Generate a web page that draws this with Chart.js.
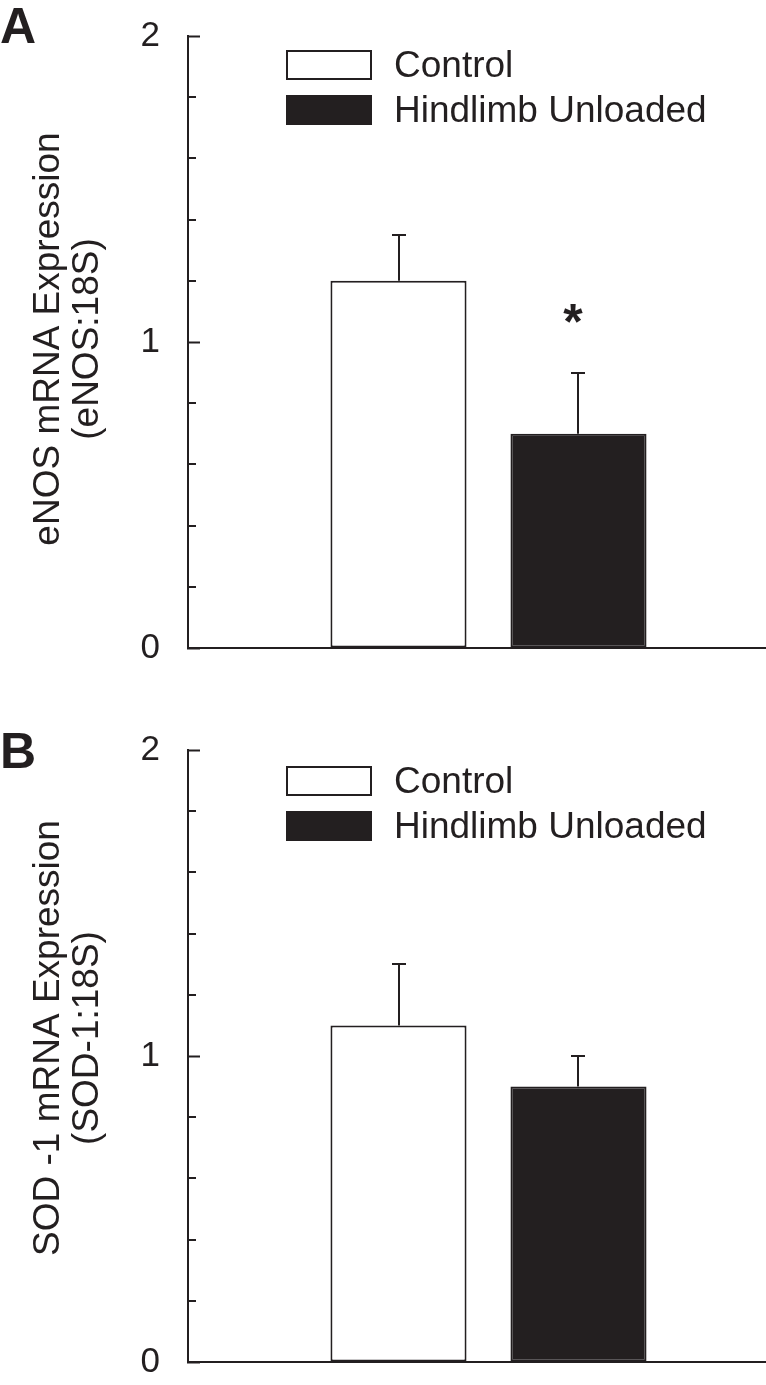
<!DOCTYPE html>
<html><head><meta charset="utf-8">
<script src="https://cdn.jsdelivr.net/npm/chart.js@4"></script>
<style>
html,body{margin:0;padding:0;background:#fff;overflow:hidden;width:766px;height:1385px;}
canvas{position:absolute;left:0;}
#a{top:0}
#b{top:714px}
</style></head><body>
<canvas id="a" width="789" height="714"></canvas>
<canvas id="b" width="789" height="714"></canvas>
<script>
// ---- data ----
const seriesNames = ['Control', 'Hindlimb Unloaded'];
const categories = [''];
const eNOSMeans = [1.2, 0.7];
const eNOSErrors = [0.15, 0.2];
const eNOSSignificant = [false, true];
const sod1Means = [1.1, 0.9];
const sod1Errors = [0.2, 0.1];
const sod1Significant = [false, false];
const yTickLabels = [0, 1, 2];
const yMin = 0, yMax = 2, yStep = 0.2;
const titleA = ['eNOS mRNA Expression', '(eNOS:18S)'];
const titleB = ['SOD -1 mRNA Expression', '(SOD-1:18S)'];

// ---- style ----
const INK = '#231f20';
const FONT = '"Liberation Sans", Arial, Helvetica, sans-serif';
const fills = ['#ffffff', INK];

function isMajor(v) { return yTickLabels.some(t => Math.abs(t - v) < 1e-6); }

const decorPlugin = {
  id: 'decor',
  afterDatasetsDraw(chart, args, opts) {
    const ctx = chart.ctx;
    const ys = chart.scales.y;
    const area = chart.chartArea;
    ctx.save();
    ctx.strokeStyle = INK;
    ctx.fillStyle = INK;
    ctx.lineWidth = 2;
    // minor ticks (inward)
    ys.ticks.forEach(t => {
      if (!isMajor(t.value)) {
        const y = Math.round(ys.getPixelForValue(t.value));
        ctx.beginPath();
        ctx.moveTo(area.left, y);
        ctx.lineTo(area.left + 8, y);
        ctx.stroke();
      }
    });
    // error bars + significance
    chart.data.datasets.forEach((ds, i) => {
      const bar = chart.getDatasetMeta(i).data[0];
      const x = Math.round(bar.x);
      const yTop = Math.round(ys.getPixelForValue(ds.data[0] + ds.errors[0]));
      ctx.beginPath();
      ctx.moveTo(x, bar.y);
      ctx.lineTo(x, yTop);
      ctx.moveTo(x - 7, yTop);
      ctx.lineTo(x + 7, yTop);
      ctx.stroke();
      if (ds.significant[0]) {
        ctx.font = 'bold 50px ' + FONT;
        ctx.textAlign = 'center';
        ctx.textBaseline = 'alphabetic';
        const m = ctx.measureText('*');
        const cy = yTop - 60;
        const base = cy + (m.actualBoundingBoxAscent - m.actualBoundingBoxDescent) / 2;
        ctx.fillText('*', x - 5, base);
      }
    });
    // legend
    ctx.font = '37px ' + FONT;
    ctx.textAlign = 'left';
    ctx.textBaseline = 'middle';
    chart.data.datasets.forEach((ds, i) => {
      const top = opts.legendTop + i * opts.legendGap;
      ctx.fillStyle = ds.backgroundColor;
      ctx.fillRect(287, top + 1, 84, 28);
      ctx.strokeStyle = INK;
      ctx.strokeRect(287, top + 1, 84, 28);
      ctx.fillStyle = INK;
      ctx.fillText(ds.label, 394, top + 17);
    });
    // y title (rotated, two lines)
    ctx.textAlign = 'center';
    ctx.textBaseline = 'alphabetic';
    opts.title.forEach((line, k) => {
      ctx.save();
      ctx.translate(opts.titleX[k], opts.titleY);
      ctx.rotate(-Math.PI / 2);
      ctx.fillText(line, 0, 0);
      ctx.restore();
    });
    // panel letter
    ctx.font = 'bold 50px ' + FONT;
    ctx.textAlign = 'left';
    ctx.fillText(opts.letter, 0, opts.letterBase);
    ctx.restore();
  }
};

function makeChart(id, means, errs, sig, title, letter, letterBase, legendTop, titleY) {
  return new Chart(document.getElementById(id), {
    type: 'bar',
    data: {
      labels: categories,
      datasets: seriesNames.map((name, i) => ({
        label: name,
        data: [means[i]],
        errors: [errs[i]],
        significant: [sig[i]],
        backgroundColor: fills[i],
        borderColor: INK,
        borderWidth: 2,
        borderSkipped: false,
        categoryPercentage: 0.599,
        barPercentage: 0.756
      }))
    },
    options: {
      responsive: false,
      animation: false,
      devicePixelRatio: 1,
      layout: { padding: { top: 36, bottom: 66, left: 0, right: 0 } },
      plugins: {
        legend: { display: false },
        tooltip: { enabled: false },
        decor: { title, letter, letterBase, legendTop, legendGap: 45, titleX: [59, 98], titleY }
      },
      scales: {
        x: {
          grid: { display: false, drawTicks: false },
          ticks: { display: false },
          border: { display: true, color: INK, width: 2 },
          afterFit(s) { s.height = 0; s.paddingLeft = 0; s.paddingRight = 0; }
        },
        y: {
          min: yMin, max: yMax,
          afterFit(s) { s.width = 188; s.paddingTop = 0; s.paddingBottom = 0; },
          grid: {
            display: true, drawOnChartArea: false, drawTicks: true, tickLength: -12,
            tickWidth: 2,
            tickColor: c => (c.tick && isMajor(c.tick.value)) ? INK : 'rgba(0,0,0,0)'
          },
          border: { display: true, color: INK, width: 2 },
          ticks: {
            stepSize: yStep, autoSkip: false, padding: 40,
            color: INK,
            font: { family: FONT, size: 35 },
            callback: v => isMajor(v) ? String(Math.round(v)) : ''
          }
        }
      }
    },
    plugins: [decorPlugin]
  });
}

makeChart('a', eNOSMeans, eNOSErrors, eNOSSignificant, titleA, 'A', 43, 50, 339);
makeChart('b', sod1Means, sod1Errors, sod1Significant, titleB, 'B', 54, 52, 324);
</script>
</body></html>
